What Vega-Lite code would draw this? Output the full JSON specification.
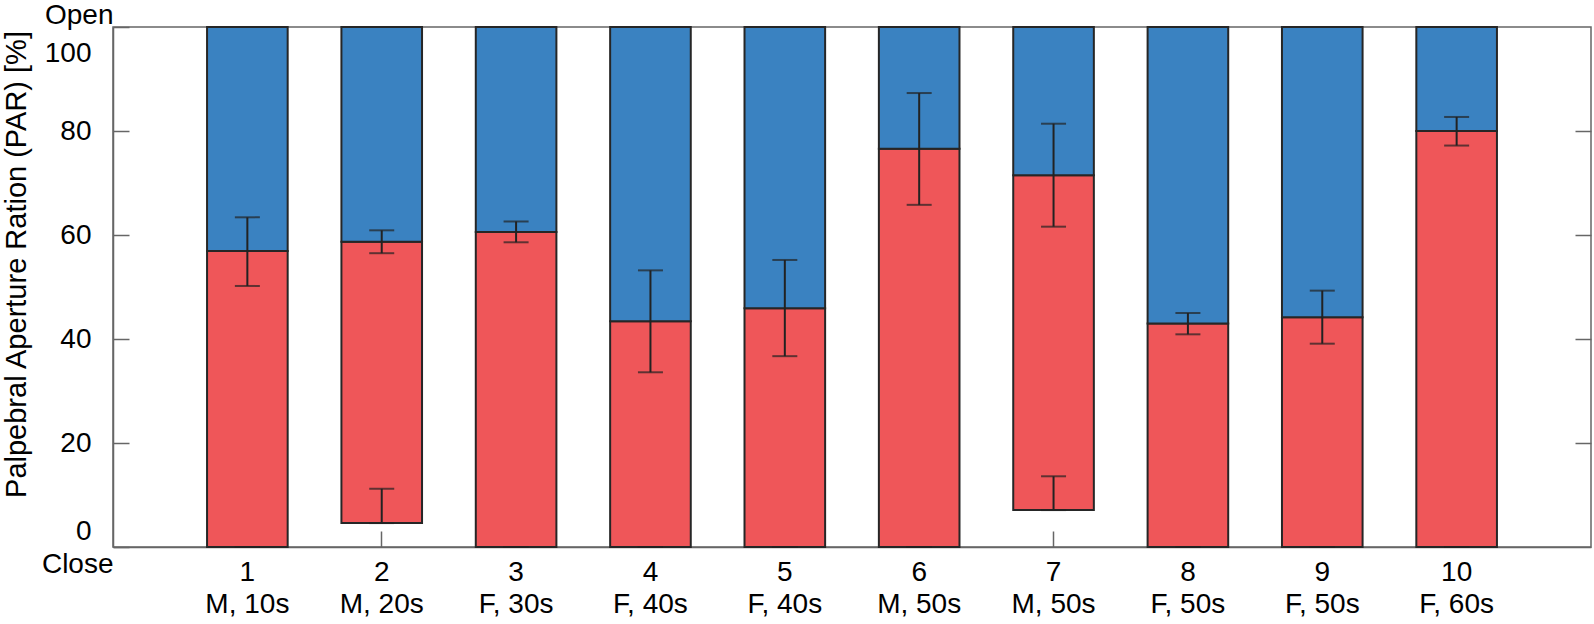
{
  "$schema": "https://vega.github.io/schema/vega-lite/v6.json",
  "width": 1478,
  "height": 520,
  "autosize": {"type": "none"},
  "padding": {"left": 113, "top": 27, "right": 3, "bottom": 77},
  "background": "white",
  "config": {
    "view": {"stroke": "#666", "strokeWidth": 1.5},
    "font": "Liberation Sans",
    "axis": {
      "labelFont": "Liberation Sans",
      "titleFont": "Liberation Sans",
      "labelFontSize": 28,
      "titleFontSize": 29,
      "labelColor": "#000",
      "titleColor": "#000",
      "titleFontWeight": "normal",
      "domainColor": "#666",
      "domainWidth": 1.5,
      "tickColor": "#666",
      "tickWidth": 1.5,
      "grid": false
    }
  },
  "data": {
    "values": [
      {"label": "1|M, 10s", "low": 0, "mean": 56.9, "errHi": 63.4, "errLo": 50.2, "lowHi": 0},
      {"label": "2|M, 20s", "low": 4.6, "mean": 58.7, "errHi": 60.9, "errLo": 56.5, "lowHi": 11.2},
      {"label": "3|F, 30s", "low": 0, "mean": 60.6, "errHi": 62.6, "errLo": 58.6, "lowHi": 0},
      {"label": "4|F, 40s", "low": 0, "mean": 43.4, "errHi": 53.2, "errLo": 33.6, "lowHi": 0},
      {"label": "5|F, 40s", "low": 0, "mean": 45.9, "errHi": 55.2, "errLo": 36.7, "lowHi": 0},
      {"label": "6|M, 50s", "low": 0, "mean": 76.6, "errHi": 87.3, "errLo": 65.8, "lowHi": 0},
      {"label": "7|M, 50s", "low": 7.1, "mean": 71.5, "errHi": 81.4, "errLo": 61.6, "lowHi": 13.6},
      {"label": "8|F, 50s", "low": 0, "mean": 43.0, "errHi": 45.0, "errLo": 40.9, "lowHi": 0},
      {"label": "9|F, 50s", "low": 0, "mean": 44.2, "errHi": 49.3, "errLo": 39.1, "lowHi": 0},
      {"label": "10|F, 60s", "low": 0, "mean": 80.0, "errHi": 82.7, "errLo": 77.2, "lowHi": 0}
    ]
  },
  "layer": [
    {
      "mark": {"type": "bar", "color": "#EF5659", "stroke": "#262626", "strokeWidth": 2},
      "encoding": {
        "x": {
          "field": "label", "type": "nominal", "sort": null,
          "scale": {"paddingInner": 0.4, "paddingOuter": 0.7},
          "axis": {
            "orient": "bottom", "title": null, "labelAngle": 0,
            "labelExpr": "split(datum.label, '|')",
            "labelLineHeight": 32, "labelBaseline": "top",
            "tickSize": -16, "labelPadding": 27
          }
        },
        "y": {
          "field": "low", "type": "quantitative",
          "scale": {"domain": [0, 100], "nice": false, "zero": false},
          "axis": {
            "orient": "left",
            "values": [0, 20, 40, 60, 80, 100],
            "tickSize": -16, "labelPadding": 38,
            "labelOffset": {"condition": [{"test": "datum.value == 100", "value": 26}, {"test": "datum.value == 0", "value": -16}], "value": 0},
            "title": "Palpebral Aperture Ration (PAR) [%]",
            "titleX": -97, "titleY": 237, "titleAngle": -90,
            "titleAlign": "center", "titleBaseline": "middle"
          }
        },
        "y2": {"field": "mean"}
      }
    },
    {
      "mark": {"type": "bar", "color": "#3A82C1", "stroke": "#262626", "strokeWidth": 2},
      "encoding": {
        "x": {
          "field": "label", "type": "nominal", "sort": null,
          "axis": {"orient": "top", "title": null, "labels": false, "domain": false, "tickSize": -16}
        },
        "y": {
          "field": "mean", "type": "quantitative",
          "axis": {"orient": "right", "title": null, "labels": false, "domain": false, "tickSize": -16, "values": [20, 40, 60, 80]}
        },
        "y2": {"datum": 100}
      }
    },
    {
      "mark": {"type": "rule", "color": "#222", "strokeWidth": 2},
      "encoding": {
        "x": {"field": "label", "type": "nominal", "sort": null, "axis": null},
        "y": {"field": "errLo", "type": "quantitative", "axis": null},
        "y2": {"field": "errHi"}
      }
    },
    {
      "mark": {"type": "rule", "color": "#222", "strokeWidth": 2},
      "encoding": {
        "x": {"field": "label", "type": "nominal", "sort": null, "axis": null},
        "y": {
          "field": "low", "type": "quantitative",
          "axis": {
            "orient": "left", "title": null, "values": [0, 100],
            "labelExpr": "datum.value == 100 ? 'Open' : 'Close'",
            "ticks": false, "domain": false, "labelPadding": 0,
            "labelOffset": {"condition": {"test": "datum.value == 100", "value": -12}, "value": 17}
          }
        },
        "y2": {"field": "lowHi"}
      }
    },
    {
      "mark": {"type": "tick", "orient": "horizontal", "color": "#222", "size": 25, "thickness": 2},
      "encoding": {
        "x": {"field": "label", "type": "nominal", "sort": null, "axis": null},
        "y": {"field": "errHi", "type": "quantitative", "axis": null}
      }
    },
    {
      "mark": {"type": "tick", "orient": "horizontal", "color": "#222", "size": 25, "thickness": 2},
      "encoding": {
        "x": {"field": "label", "type": "nominal", "sort": null, "axis": null},
        "y": {"field": "errLo", "type": "quantitative", "axis": null}
      }
    },
    {
      "mark": {"type": "tick", "orient": "horizontal", "color": "#222", "size": 25, "thickness": 2},
      "encoding": {
        "x": {"field": "label", "type": "nominal", "sort": null, "axis": null},
        "y": {"field": "low", "type": "quantitative", "axis": null}
      }
    },
    {
      "mark": {"type": "tick", "orient": "horizontal", "color": "#222", "size": 25, "thickness": 2},
      "encoding": {
        "x": {"field": "label", "type": "nominal", "sort": null, "axis": null},
        "y": {"field": "lowHi", "type": "quantitative", "axis": null}
      }
    }
  ],
  "resolve": {"axis": {"x": "independent", "y": "independent"}}
}
